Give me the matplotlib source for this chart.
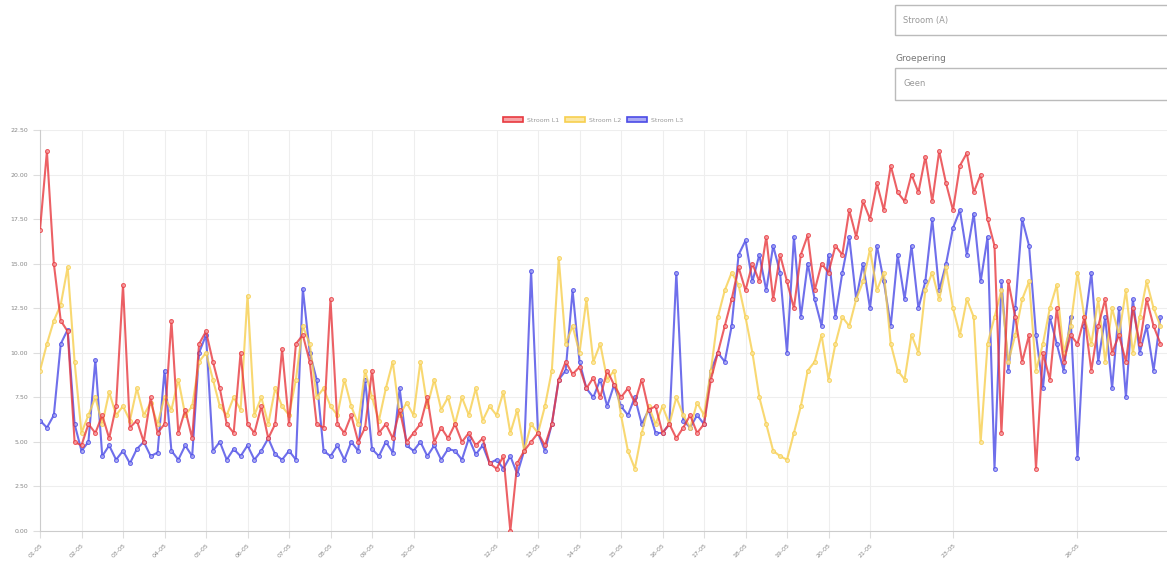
import numpy as np
import pandas as pd
import matplotlib
matplotlib.use("Agg")
import matplotlib.pyplot as plt
from matplotlib.patches import Rectangle

# readings every 4 hours (6 per day)
stroom_l1 = [
    16.9, 21.3, 15.0, 11.8, 11.2, 5.0,
    4.8, 6.0, 5.5, 6.5, 5.2, 7.0,
    13.8, 5.8, 6.2, 5.0, 7.5, 5.5,
    6.0, 11.8, 5.5, 6.8, 5.2, 10.5,
    11.2, 9.5, 8.0, 6.0, 5.5, 10.0,
    6.0, 5.5, 7.0, 5.2, 6.0, 10.2,
    6.0, 10.5, 11.0, 9.5, 6.0, 5.8,
    13.0, 6.0, 5.5, 6.5, 5.0, 5.8,
    9.0, 5.5, 6.0, 5.2, 6.8, 5.0,
    5.5, 6.0, 7.5, 5.0, 5.8, 5.2,
    6.0, 5.0, 5.5, 4.8, 5.2, 3.8,
    3.5, 4.2, 0.0, 3.8, 4.5, 5.0,
    5.5, 4.8, 6.0, 8.5, 9.5, 8.8,
    9.2, 8.0, 8.6, 7.5, 9.0, 8.2,
    7.5, 8.0, 7.2, 8.5, 6.8, 7.0,
    5.5, 6.0, 5.2, 5.8, 6.5, 5.5,
    6.0, 8.5, 10.0, 11.5, 13.0, 14.8,
    13.5, 15.0, 14.0, 16.5, 13.0, 15.5,
    14.0, 12.5, 15.5, 16.6, 13.5, 15.0,
    14.5, 16.0, 15.5, 18.0, 16.5, 18.5,
    17.5, 19.5, 18.0, 20.5, 19.0, 18.5,
    20.0, 19.0, 21.0, 18.5, 21.3, 19.5,
    18.0, 20.5, 21.2, 19.0, 20.0, 17.5,
    16.0, 5.5, 14.0, 12.0, 9.5, 11.0,
    3.5, 10.0, 8.5, 12.5, 9.5, 11.0,
    10.5, 12.0, 9.0, 11.5, 13.0, 10.0,
    11.0, 9.5, 12.5, 10.5, 13.0, 11.5,
    10.5,
]
stroom_l2 = [
    9.0, 10.5, 11.8, 12.7, 14.8, 9.5,
    5.5, 6.5, 7.5, 6.0, 7.8, 6.5,
    7.0, 6.2, 8.0, 6.5, 7.2, 6.0,
    7.5, 6.8, 8.5, 6.5, 7.0, 9.5,
    10.0, 8.5, 7.0, 6.5, 7.5, 6.8,
    13.2, 6.5, 7.5, 6.0, 8.0, 7.0,
    6.5, 8.5, 11.5, 10.5, 7.5, 8.0,
    7.0, 6.5, 8.5, 7.0, 6.0, 9.0,
    7.5, 6.2, 8.0, 9.5, 6.5, 7.2,
    6.5, 9.5, 7.0, 8.5, 6.8, 7.5,
    6.0, 7.5, 6.5, 8.0, 6.2, 7.0,
    6.5, 7.8, 5.5, 6.8, 4.5, 6.0,
    5.5, 7.0, 9.0, 15.3, 10.5, 11.5,
    10.0, 13.0, 9.5, 10.5, 8.5, 9.0,
    6.5, 4.5, 3.5, 5.5, 7.0, 6.0,
    7.0, 6.0, 7.5, 6.5, 5.8, 7.2,
    6.5, 9.0, 12.0, 13.5, 14.5, 13.8,
    12.0, 10.0, 7.5, 6.0, 4.5, 4.2,
    4.0, 5.5, 7.0, 9.0, 9.5, 11.0,
    8.5, 10.5, 12.0, 11.5, 13.0, 14.0,
    15.8, 13.5, 14.5, 10.5, 9.0, 8.5,
    11.0, 10.0, 13.5, 14.5, 13.0, 14.8,
    12.5, 11.0, 13.0, 12.0, 5.0, 10.5,
    12.0, 13.5, 9.5, 11.0, 13.0, 14.0,
    9.0, 10.5, 12.5, 13.8, 10.0, 11.5,
    14.5, 12.0, 10.5, 13.0, 9.5, 12.5,
    11.0, 13.5, 10.0, 12.0, 14.0, 12.5,
    11.5,
]
stroom_l3 = [
    6.2, 5.8, 6.5, 10.5, 11.3, 6.0,
    4.5, 5.0, 9.6, 4.2, 4.8, 4.0,
    4.5, 3.8, 4.6, 5.0, 4.2, 4.4,
    9.0, 4.5, 4.0, 4.8, 4.2, 10.0,
    11.0, 4.5, 5.0, 4.0, 4.6, 4.2,
    4.8, 4.0, 4.5, 5.2, 4.3, 4.0,
    4.5, 4.0, 13.6, 10.0, 8.5, 4.5,
    4.2, 4.8, 4.0, 5.0, 4.5, 8.5,
    4.6, 4.2, 5.0, 4.4, 8.0, 4.8,
    4.5, 5.0, 4.2, 4.8, 4.0, 4.6,
    4.5, 4.0, 5.2, 4.3, 4.8, 3.8,
    4.0, 3.5, 4.2, 3.2, 4.5, 14.6,
    5.5, 4.5, 6.0, 8.5, 9.0, 13.5,
    9.5, 8.0, 7.5, 8.5, 7.0, 8.2,
    7.0, 6.5, 7.5, 6.0, 6.8, 5.5,
    5.5, 6.0, 14.5, 6.2, 5.8, 6.5,
    6.0, 9.0, 10.0, 9.5, 11.5, 15.5,
    16.3, 14.0, 15.5, 13.5, 16.0, 14.5,
    10.0, 16.5, 12.0, 15.0, 13.0, 11.5,
    15.5, 12.0, 14.5, 16.5, 13.0, 15.0,
    12.5, 16.0, 14.0, 11.5, 15.5, 13.0,
    16.0, 12.5, 14.0, 17.5, 13.5, 15.0,
    17.0, 18.0, 15.5, 17.8, 14.0, 16.5,
    3.5, 14.0, 9.0, 12.5, 17.5, 16.0,
    11.0, 8.0, 12.0, 10.5, 9.0, 12.0,
    4.1, 11.5, 14.5, 9.5, 12.0, 8.0,
    12.5, 7.5, 13.0, 10.0, 11.5, 9.0,
    12.0,
]
series_names = ["Stroom L1", "Stroom L2", "Stroom L3"]
line_colors = ["#e8393f", "#f7cf4f", "#4b4be6"]
fill_colors = ["#f6a3a6", "#fbe7a4", "#a9a9f3"]

start = pd.Timestamp("2023-05-01")
times = pd.date_range(start, periods=len(stroom_l1), freq="4h")
label_days = [0, 1, 2, 3, 4, 5, 6, 7, 8, 9, 11, 12, 13, 14, 15, 16, 17, 18, 19, 20, 22, 25]
tick_dates = [start + pd.Timedelta(days=d) for d in label_days]
y_ticks = np.arange(0, 22.51, 2.5)

fig = plt.figure(figsize=(11.67, 5.66), dpi=100)
ax = fig.add_axes([40 / 1167, 1 - 531 / 566, 1 - 40 / 1167, (531 - 130) / 566])

# first dataset drawn on top, like chart.js
for k, (vals, name, lc, fc) in enumerate(zip([stroom_l1, stroom_l2, stroom_l3],
                                              series_names, line_colors, fill_colors)):
    ax.plot(times, vals, color=lc, lw=1.5, alpha=0.8, marker="o", ms=2.8,
            mfc=fc, mec=lc, mew=0.8, label=name, zorder=5 - k)

ax.set_xlim(start, start + pd.Timedelta(days=(1167 - 40) / 41.5))
ax.set_ylim(0, 22.5)
ax.set_yticks(y_ticks)
ax.set_yticklabels(["%.2f" % v for v in y_ticks])
ax.set_xticks(tick_dates)
ax.set_xticklabels([d.strftime("%d-%m") for d in tick_dates], rotation=45,
                   ha="right", rotation_mode="anchor")
ax.tick_params(axis="both", labelsize=4.5, labelcolor="#888888", color="#dddddd", length=5)
ax.grid(color="#eeeeee", lw=0.8)
ax.set_axisbelow(True)
for s in ["top", "right"]:
    ax.spines[s].set_visible(False)
for s in ["left", "bottom"]:
    ax.spines[s].set_color("#cccccc")

handles = [Rectangle((0, 0), 1, 1, fc=fc, ec=lc, lw=1.2) for lc, fc in zip(line_colors, fill_colors)]
fig.legend(handles, series_names, loc="center", bbox_to_anchor=(593 / 1167, 1 - 120 / 566),
           ncol=3, frameon=False, fontsize=4.5, labelcolor="#999999",
           handlelength=3.2, handleheight=0.9, columnspacing=1.0, handletextpad=0.6)

# form controls top right
fig.patches.append(Rectangle((895 / 1167, 1 - 35 / 566), 280 / 1167, 30 / 566,
                             transform=fig.transFigure, fc="white", ec="#bbbbbb", lw=1))
fig.text(903 / 1167, 1 - 20 / 566, "Stroom (A)", fontsize=6, color="#999999", va="center")
fig.text(895 / 1167, 1 - 58 / 566, "Groepering", fontsize=6.5, color="#777777", va="center")
fig.patches.append(Rectangle((895 / 1167, 1 - 100 / 566), 280 / 1167, 32 / 566,
                             transform=fig.transFigure, fc="white", ec="#bbbbbb", lw=1))
fig.text(903 / 1167, 1 - 84 / 566, "Geen", fontsize=6, color="#999999", va="center")

fig.savefig("out.png", dpi=100)
